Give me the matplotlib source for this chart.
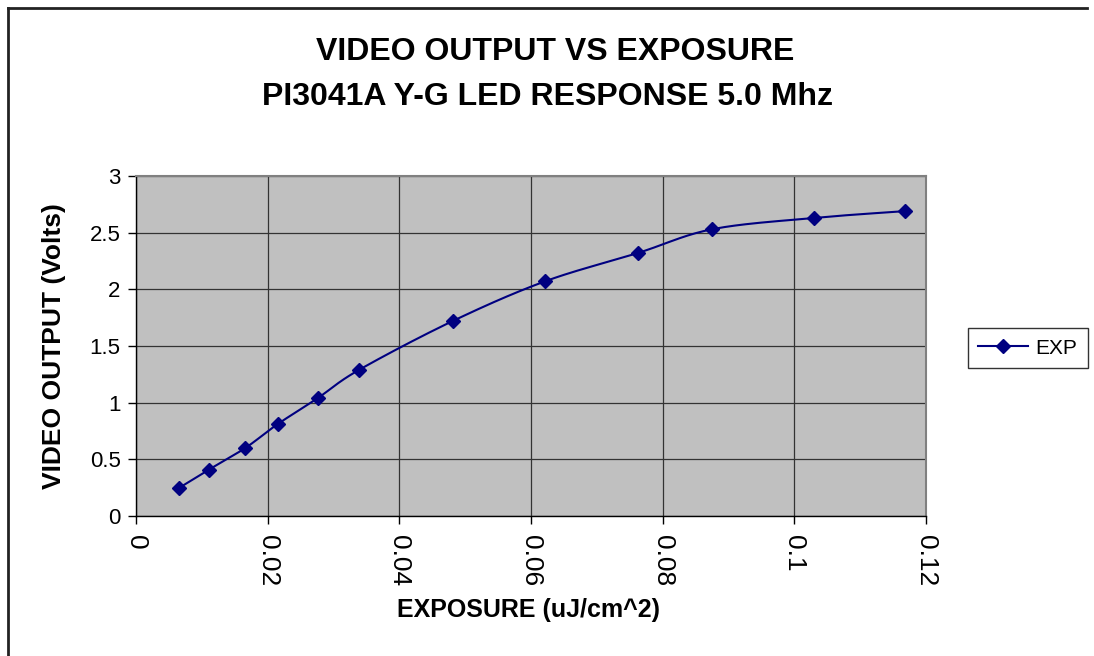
import numpy as np
import matplotlib
matplotlib.use("Agg")
import matplotlib.pyplot as plt
from matplotlib.lines import Line2D

plt.rcParams['font.family'] = ['Liberation Sans', 'DejaVu Sans']

exposure = [0.0066, 0.0111, 0.0166, 0.0215, 0.0276, 0.0339, 0.0481, 0.0621, 0.0762, 0.0875, 0.1030, 0.1168]
video_out = [0.25, 0.41, 0.60, 0.81, 1.04, 1.29, 1.72, 2.07, 2.32, 2.53, 2.63, 2.69]
x_ticks = [0, 0.02, 0.04, 0.06, 0.08, 0.1, 0.12]
x_tick_labels = ["0", "0.02", "0.04", "0.06", "0.08", "0.1", "0.12"]
y_ticks = [0, 0.5, 1, 1.5, 2, 2.5, 3]
y_tick_labels = ["0", "0.5", "1", "1.5", "2", "2.5", "3"]


def smooth(xs, ys, sx, sy, n=30):
    # catmull-rom through the points, like the spreadsheet's smoothed line
    p = np.column_stack([np.array(xs) / sx, np.array(ys) / sy])
    p = np.vstack([p[0], p, p[-1]])
    out = []
    for i in range(1, len(p) - 2):
        p0, p1, p2, p3 = p[i - 1], p[i], p[i + 1], p[i + 2]
        t = np.linspace(0, 1, n)[:, None]
        c1 = p1 + (p2 - p0) / 6
        c2 = p2 - (p3 - p1) / 6
        seg = (1 - t) ** 3 * p1 + 3 * (1 - t) ** 2 * t * c1 + 3 * (1 - t) * t ** 2 * c2 + t ** 3 * p2
        out.append(seg)
    out = np.vstack(out)
    return out[:, 0] * sx, out[:, 1] * sy


fig = plt.figure(figsize=(10.94, 6.56), dpi=100)
ax = fig.add_axes([136 / 1094, 1 - 516 / 656, 790 / 1094, 340 / 656])
ax.set_facecolor('#C0C0C0')

sx, sy = smooth(exposure, video_out, 0.12, 3.0)
ax.plot(sx, sy, color='#000080', lw=1.5, zorder=3)
ax.plot(exposure, video_out, ls='none', marker='D', ms=7, color='#000080', zorder=4)

ax.set_xlim(0, 0.12)
ax.set_ylim(0, 3)
ax.set_xticks(x_ticks)
ax.set_xticklabels(x_tick_labels, rotation=-90, fontsize=19)
ax.set_yticks(y_ticks)
ax.set_yticklabels(y_tick_labels, fontsize=16)
ax.tick_params(axis='both', direction='out', length=6, width=1, colors='black')
ax.tick_params(axis='x', pad=8)
ax.tick_params(axis='y', pad=5)
ax.grid(True, color='#333333', lw=0.9)
ax.set_axisbelow(True)
for s in ['top', 'right']:
    ax.spines[s].set_color('#808080')
    ax.spines[s].set_linewidth(1.5)
for s in ['left', 'bottom']:
    ax.spines[s].set_color('black')
    ax.spines[s].set_linewidth(1)

ax.set_xlabel("EXPOSURE (uJ/cm^2)", fontsize=18, fontweight='bold')
ax.set_ylabel("VIDEO OUTPUT (Volts)", fontsize=19, fontweight='bold')
ax.xaxis.set_label_coords(0.497, -0.241)
ax.yaxis.set_label_coords(-0.088, 0.5)

fig.text(555 / 1094, 1 - 52 / 656, "VIDEO OUTPUT VS EXPOSURE", ha='center', va='center',
         fontsize=23, fontweight='bold')
fig.text(548 / 1094, 1 - 97 / 656, "PI3041A Y-G LED RESPONSE 5.0 Mhz", ha='center', va='center',
         fontsize=23, fontweight='bold')

handle = Line2D([], [], color='#000080', lw=1.5, marker='D', ms=7)
leg = fig.legend([handle], ["EXP"], loc='center left', bbox_to_anchor=(968 / 1094, 1 - 348 / 656),
                 fontsize=15, frameon=True, fancybox=False, borderaxespad=0, handlelength=2.4,
                 handletextpad=0.35, borderpad=0.5)
leg.get_frame().set_edgecolor('black')
leg.get_frame().set_linewidth(1)

# outer chart border
fig.add_artist(Line2D([8 / 1094, 8 / 1094], [0, 1 - 8 / 656], color='#222222', lw=2))
fig.add_artist(Line2D([8 / 1094, 1087 / 1094], [1 - 8 / 656, 1 - 8 / 656], color='#222222', lw=2))

fig.savefig("out.png", dpi=100)
